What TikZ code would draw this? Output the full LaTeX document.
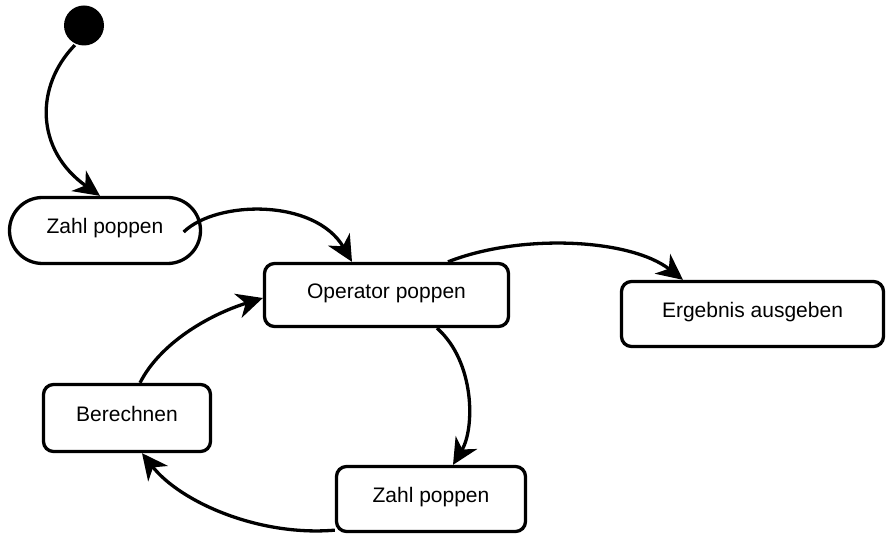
\documentclass[tikz,border=0pt]{standalone}
\usepackage{fontspec}
\setmainfont{Liberation Sans}
\usetikzlibrary{arrows.meta}

\begin{document}
\begin{tikzpicture}[x=1pt, y=-1pt, line width=3.3pt,
    zustand/.style={draw, rounded corners=10pt, font=\fontsize{21}{25}\selectfont,
        text height=16pt, text depth=9.5pt, inner sep=0pt},
    uebergang/.style={-{Stealth[length=26pt, width=25pt, inset=8pt]}}]
    \useasboundingbox (0,0) rectangle (886,537);

    % Startpunkt
    \node[circle, fill, inner sep=0pt, minimum size=40pt] (init) at (84,25.5) {};

    % Zustaende
    \node[zustand, rounded corners=33pt, minimum width=191pt, minimum height=66pt] (zahlA) at (105,230.5) {Zahl poppen};
    \node[zustand, minimum width=244pt, minimum height=63pt] (opr) at (386.5,295) {Operator poppen};
    \node[zustand, minimum width=262pt, minimum height=65pt] (ergeb) at (752.5,314) {Ergebnis ausgeben};
    \node[zustand, minimum width=167pt, minimum height=67pt] (berech) at (127,418) {Berechnen};
    \node[zustand, minimum width=189pt, minimum height=65pt] (zahlB) at (431,499) {Zahl poppen};

    % Uebergaenge
    \draw[uebergang] (init.-115) .. controls +(-40,41) and +(-65,-46) .. ([xshift=-5pt]zahlA.north);
    \draw[uebergang] ([xshift=-18.5pt, yshift=-1.5pt]zahlA.east) .. controls +(33,-32) and +(-37,-63.5) .. ([xshift=-34.5pt]opr.north);
    \draw[uebergang] ([xshift=61.5pt]opr.north) .. controls +(72,-28.5) and +(-53,-41.5) .. ([xshift=-69.5pt]ergeb.north);
    \draw[uebergang] ([xshift=50.5pt]opr.south) .. controls +(38,33.5) and +(22,-36.5) .. ([xshift=22pt]zahlB.north);
    \draw[uebergang] ([yshift=3pt]zahlB.south west) .. controls +(-76.5,6.5) and +(38,48.5) .. ([xshift=15pt]berech.south);
    \draw[uebergang] ([xshift=13pt]berech.north) .. controls +(20,-39.5) and +(-54.5,17) .. ([yshift=-3pt]opr.west);
\end{tikzpicture}
\end{document}
